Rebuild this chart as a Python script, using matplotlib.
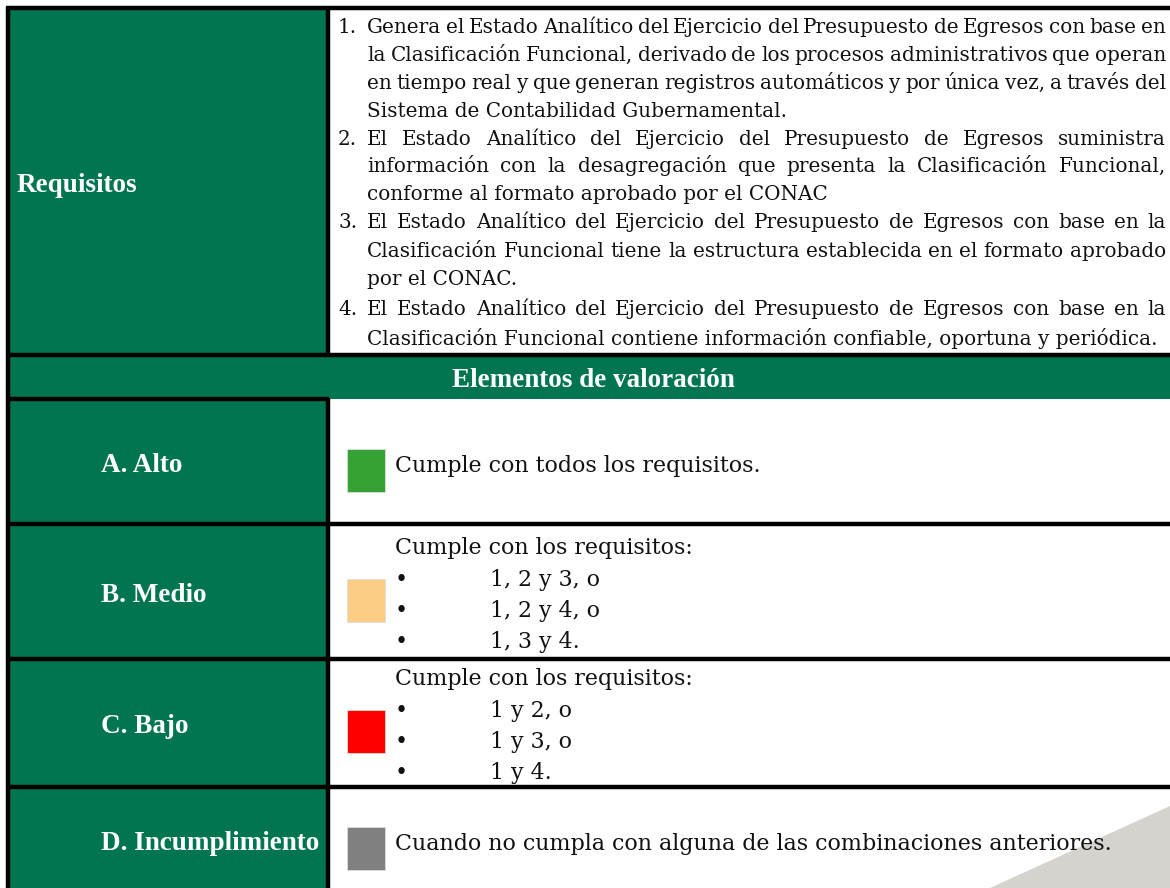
import matplotlib
matplotlib.use('Agg')
import matplotlib.pyplot as plt
from matplotlib.patches import Rectangle, Polygon

# datos de la tabla
req_title = 'Requisitos'
header = 'Elementos de valoración'
req_numbers = ['1.', '2.', '3.', '4.']
req_lines = [
    ['Genera el Estado Analítico del Ejercicio del Presupuesto de Egresos con base en',
     'la Clasificación Funcional, derivado de los procesos administrativos que operan',
     'en tiempo real y que generan registros automáticos y por única vez, a través del',
     'Sistema de Contabilidad Gubernamental.'],
    ['El Estado Analítico del Ejercicio del Presupuesto de Egresos suministra',
     'información con la desagregación que presenta la Clasificación Funcional,',
     'conforme al formato aprobado por el CONAC'],
    ['El Estado Analítico del Ejercicio del Presupuesto de Egresos con base en la',
     'Clasificación Funcional tiene la estructura establecida en el formato aprobado',
     'por el CONAC.'],
    ['El Estado Analítico del Ejercicio del Presupuesto de Egresos con base en la',
     'Clasificación Funcional contiene información confiable, oportuna y periódica.'],
]
levels = ['A. Alto', 'B. Medio', 'C. Bajo', 'D. Incumplimiento']
level_colors = ['#34a334', '#fccd84', '#ff0000', '#808080']
level_intro = ['Cumple con todos los requisitos.',
               'Cumple con los requisitos:',
               'Cumple con los requisitos:',
               'Cuando no cumpla con alguna de las combinaciones anteriores.']
level_items = [[],
               ['1, 2 y 3, o', '1, 2 y 4, o', '1, 3 y 4.'],
               ['1 y 2, o', '1 y 3, o', '1 y 4.'],
               []]

W, H = 1170, 888
GREEN = '#00754f'
SERIF = 'DejaVu Serif'
fig = plt.figure(figsize=(11.7, 8.88), dpi=100)
ax = fig.add_axes([0, 0, 1, 1])
ax.set_xlim(0, W)
ax.set_ylim(H, 0)
ax.axis('off')
renderer = fig.canvas.get_renderer()

bold = dict(family='Liberation Serif', fontweight='bold', color='white', fontsize=19.5)


def text_width(s, size):
    t = ax.text(0, 0, s, family=SERIF, fontsize=size)
    w = t.get_window_extent(renderer).width
    t.remove()
    return w


# tamaño de letra: la línea más larga ocupa el ancho de la celda
x_txt, x_right = 367, 1166
body = dict(family=SERIF, color='#111111',
            fontsize=16 * (1155 - x_txt) / text_width(req_lines[3][1], 16))
# las celdas de valoración usan letra algo mayor
low = dict(family=SERIF, color='#111111',
           fontsize=16 * 367 / text_width(level_intro[0], 16))


def put_line(x0, x1, y, s, justify):
    if not justify:
        ax.text(x0, y, s, va='baseline', **body)
        return
    words = s.split()
    ws = [text_width(w, body['fontsize']) for w in words]
    gap = (x1 - x0 - sum(ws)) / (len(words) - 1)
    x = x0
    for w, wd in zip(words, ws):
        ax.text(x, y, w, va='baseline', **body)
        x += wd + gap


# fondos
ax.add_patch(Rectangle((7, 8), 321, H - 8, color=GREEN, lw=0))
ax.add_patch(Rectangle((7, 355), W - 7, 44, color=GREEN, lw=0))
ax.add_patch(Polygon([(990, H), (W, 806), (W, H)], closed=True, color='#d6d3ce', lw=0))

# bordes
kw = dict(color='black', lw=3.2, solid_capstyle='butt')
ax.plot([7.5, 7.5], [7, H], **kw)
ax.plot([328, 328], [7, 356], **kw)
ax.plot([328, 328], [398, H], **kw)
ax.plot([6, W], [8.5, 8.5], **kw)
ax.plot([6, W], [355, 355], **kw)
ax.plot([6, 329], [399, 399], **kw)
for y in [524, 659, 787]:
    ax.plot([6, W], [y, y], **kw)

# requisitos
ax.text(17, 192, req_title, va='baseline', **bold)
baselines = [33, 61, 89, 117, 145, 172, 200, 228, 257, 285, 315, 345]
k = 0
for num, lines in zip(req_numbers, req_lines):
    ax.text(338, baselines[k], num, va='baseline', **body)
    for i, s in enumerate(lines):
        put_line(x_txt, x_right, baselines[k], s, i < len(lines) - 1)
        k += 1

ax.text(593, 387, header, ha='center', va='baseline', **bold)

# niveles de valoración
label_base = [472, 602, 733, 850]
intro_base = [472, 554, 685, 850]
for i, lab in enumerate(levels):
    ax.text(101, label_base[i], lab, va='baseline', **bold)
    ax.add_patch(Rectangle((347, label_base[i] - 23), 38, 43,
                           facecolor=level_colors[i], edgecolor='#dddddd', lw=0.6))
    ax.text(395, intro_base[i], level_intro[i], va='baseline', **low)
    for j, item in enumerate(level_items[i]):
        yb = intro_base[i] + 32 + 31 * j
        ax.text(395, yb, '•', va='baseline', **low)
        ax.text(490, yb, item, va='baseline', **low)

fig.savefig('out.png', dpi=100)
